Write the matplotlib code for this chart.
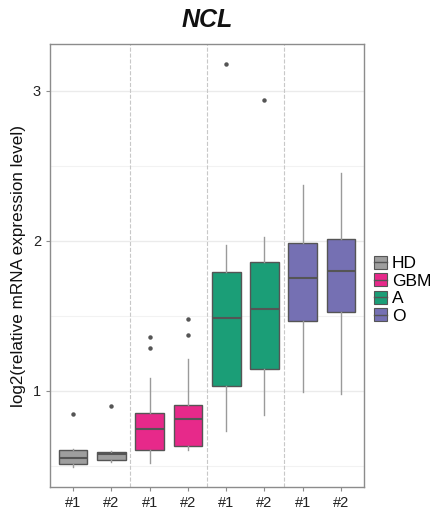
import matplotlib
matplotlib.use("Agg")
import matplotlib.pyplot as plt
from matplotlib.patches import Patch
from matplotlib.lines import Line2D
from matplotlib.legend_handler import HandlerTuple

plt.rcParams['font.family'] = ['Liberation Sans', 'DejaVu Sans']

# Data (log2 relative mRNA expression)
groups = ['HD', 'GBM', 'A', 'O']
tick_labels = ['#1', '#2', '#1', '#2', '#1', '#2', '#1', '#2']
box_group = ['HD', 'HD', 'GBM', 'GBM', 'A', 'A', 'O', 'O']
q1 = [0.515, 0.540, 0.609, 0.631, 1.031, 1.147, 1.469, 1.525]
median = [0.551, 0.578, 0.744, 0.813, 1.484, 1.549, 1.753, 1.800]
q3 = [0.604, 0.593, 0.853, 0.907, 1.795, 1.858, 1.987, 2.013]
whisker_lo = [0.495, 0.525, 0.518, 0.607, 0.731, 0.840, 0.996, 0.980]
whisker_hi = [0.610, 0.600, 1.087, 1.213, 1.973, 2.027, 2.371, 2.455]
outliers = [[0.849], [0.898], [1.289, 1.360], [1.375, 1.482],
            [3.178], [2.942], [], []]

colors = {'HD': '#9E9E9E', 'GBM': '#E7298A', 'A': '#1B9E77', 'O': '#7570B3'}

fig = plt.figure(figsize=(4.36, 5.16), dpi=100)
ax = fig.add_axes([0.1147, 0.0562, 0.7202, 0.8585])

stats = []
for i in range(len(median)):
    stats.append(dict(med=median[i], q1=q1[i], q3=q3[i],
                      whislo=whisker_lo[i], whishi=whisker_hi[i],
                      fliers=outliers[i]))

positions = list(range(1, len(median) + 1))
bp = ax.bxp(stats, positions=positions, widths=0.75, patch_artist=True,
            showcaps=False, zorder=3,
            boxprops=dict(edgecolor='#555555', linewidth=1.0),
            medianprops=dict(color='#555555', linewidth=1.5),
            whiskerprops=dict(color='#9A9A9A', linewidth=1.0),
            flierprops=dict(marker='o', markersize=2.2,
                            markerfacecolor='#555555',
                            markeredgecolor='#555555'))
for patch, g in zip(bp['boxes'], box_group):
    patch.set_facecolor(colors[g])

# separators between groups
for x in [2.5, 4.5, 6.5]:
    ax.axvline(x, color='#C8C8C8', linestyle='--', linewidth=0.8, zorder=1)

ax.set_xlim(0.4, 8.6)
ax.set_ylim(0.36, 3.313)
ax.set_yticks([1, 2, 3])
ax.set_yticks([0.5, 1.5, 2.5], minor=True)
ax.set_xticks(positions)
ax.set_xticklabels(tick_labels)
ax.grid(axis='y', which='major', color='#EBEBEB', linewidth=1.0, zorder=0)
ax.grid(axis='y', which='minor', color='#F2F2F2', linewidth=0.8, zorder=0)
ax.set_axisbelow(True)

for s in ax.spines.values():
    s.set_color('#8C8C8C')
    s.set_linewidth(1.0)
ax.tick_params(axis='both', which='major', colors='#8C8C8C', length=3,
               labelcolor='#222222', labelsize=10.5)
ax.tick_params(axis='y', which='minor', length=0)

ax.set_ylabel('log2(relative mRNA expression level)', fontsize=12.3,
              color='#111111', labelpad=5)
ax.set_title('NCL', fontsize=18, fontweight='bold', fontstyle='italic',
             color='#111111', pad=12)

handles = []
for g in groups:
    handles.append((Patch(facecolor=colors[g], edgecolor='#555555', linewidth=0.8),
                    Line2D([0], [0], color='#555555', linewidth=1.0)))
leg = ax.legend(handles, groups, handler_map={tuple: HandlerTuple(ndivide=1, pad=0)},
                loc='center left', bbox_to_anchor=(1.0, 0.445), frameon=False,
                fontsize=12.5, handlelength=0.75, handleheight=0.75,
                handletextpad=0.3, labelspacing=0.12, borderaxespad=0.15)

fig.savefig('out.png', dpi=100)
